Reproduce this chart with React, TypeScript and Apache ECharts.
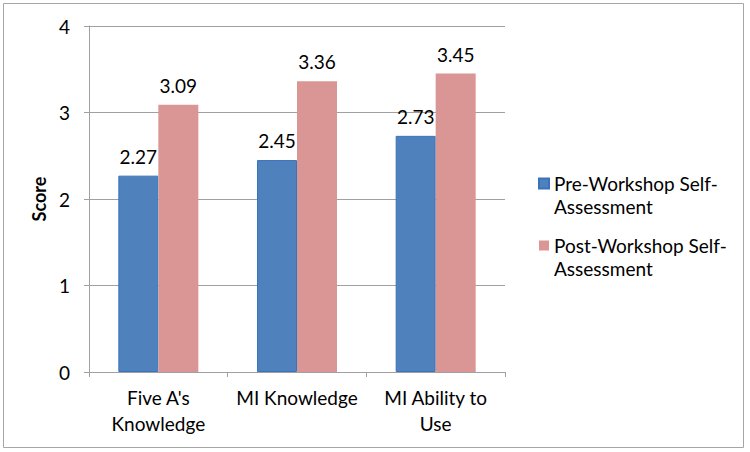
import React, { useEffect, useRef } from "react";
import * as echarts from "echarts";

const categories = ["Five A's Knowledge", "MI Knowledge", "MI Ability to Use"];
const categoryLabels = ["Five A's\nKnowledge", "MI Knowledge", "MI Ability to\nUse"];
const preValues = [2.27, 2.45, 2.73];
const postValues = [3.09, 3.36, 3.45];
const seriesNames = ["Pre-Workshop Self-Assessment", "Post-Workshop Self-Assessment"];
const legendLines = [
  ["Pre-Workshop Self-", "Assessment"],
  ["Post-Workshop Self-", "Assessment"],
];
const yTicks = [0, 1, 2, 3, 4];

const FONT = "Lato, 'Open Sans', sans-serif";

export default function App() {
  const ref = useRef<HTMLDivElement>(null);
  useEffect(() => {
    if (!ref.current) return;
    const chart = echarts.init(ref.current, null, { renderer: "svg" });
    const grey = "#a0a0a0";
    chart.setOption({
      animation: false,
      backgroundColor: "#ffffff",
      textStyle: { fontFamily: FONT },
      graphic: [
        {
          type: "rect",
          shape: { x: 3.5, y: 3.5, width: 740, height: 444 },
          style: { fill: "none", stroke: "#a6a6a6", lineWidth: 1 },
          silent: true,
        },
      ],
      grid: { left: 89, top: 26, width: 416, height: 346 },
      legend: {
        orient: "vertical",
        left: 538,
        top: 151,
        padding: 0,
        itemWidth: 10,
        itemHeight: 10,
        itemGap: -3,
        icon: "rect",
        data: seriesNames,
        formatter: (name: string) => {
          const l = legendLines[seriesNames.indexOf(name)];
          return "{p|}\n{a|" + l[0] + "}\n{a|" + l[1] + "}";
        },
        textStyle: {
          fontFamily: FONT,
          fontSize: 19,
          color: "#000",
          rich: {
            a: { fontFamily: FONT, fontSize: 19, lineHeight: 23, color: "#000" },
            p: { fontSize: 19, lineHeight: 23 },
          },
        },
      },
      xAxis: {
        type: "category",
        data: categories,
        axisLine: { lineStyle: { color: grey } },
        axisTick: { show: true, length: 5, lineStyle: { color: grey } },
        axisLabel: {
          interval: 0,
          formatter: (v: string) => categoryLabels[categories.indexOf(v)],
          fontFamily: FONT,
          fontSize: 19,
          lineHeight: 26,
          color: "#000",
          margin: 12,
        },
      },
      yAxis: {
        type: "value",
        min: yTicks[0],
        max: yTicks[yTicks.length - 1],
        interval: 1,
        name: "Score",
        nameLocation: "middle",
        nameGap: 37,
        nameTextStyle: { fontFamily: FONT, fontSize: 18, fontWeight: "bold", color: "#000" },
        axisLine: { show: true, lineStyle: { color: grey } },
        axisTick: { show: true, length: 5, lineStyle: { color: grey } },
        axisLabel: { fontFamily: FONT, fontSize: 19, color: "#000", margin: 19 },
        splitLine: { show: true, lineStyle: { color: grey } },
      },
      series: [
        {
          name: seriesNames[0],
          type: "bar",
          data: preValues,
          barWidth: 40,
          barGap: "0%",
          itemStyle: { color: "#4F81BD", borderColor: "#3a73bd", borderWidth: 1 },
          label: {
            show: true,
            position: "top",
            distance: 10,
            fontFamily: FONT,
            fontSize: 19,
            color: "#000",
            formatter: (p: any) => p.value.toFixed(2),
          },
        },
        {
          name: seriesNames[1],
          type: "bar",
          data: postValues,
          barWidth: 40,
          barGap: "0%",
          itemStyle: { color: "#D99694" },
          label: {
            show: true,
            position: "top",
            distance: 10,
            fontFamily: FONT,
            fontSize: 19,
            color: "#000",
            formatter: (p: any) => p.value.toFixed(2),
          },
        },
      ],
    });
    return () => chart.dispose();
  }, []);
  return (
    <div
      ref={ref}
      style={{ position: "fixed", left: 0, top: 0, width: 750, height: 452 }}
    />
  );
}
